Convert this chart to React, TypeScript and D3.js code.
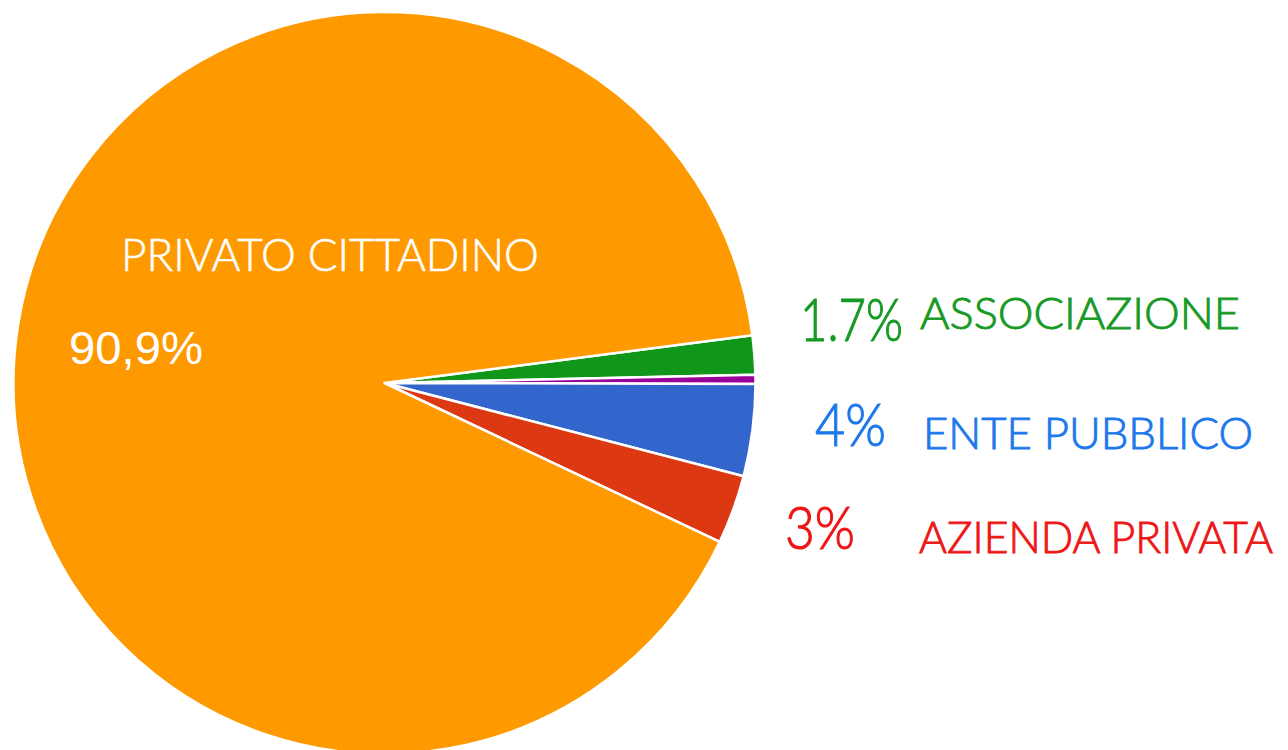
import React from "react";
import * as d3 from "d3";

const categories = ["ASSOCIAZIONE", "ALTRO", "ENTE PUBBLICO", "AZIENDA PRIVATA", "PRIVATO CITTADINO"];
const values = [1.7, 0.4, 4, 3, 90.9];
const valueLabels = ["1.7%", "", "4%", "3%", "90,9%"];
const sliceColors = ["#109618", "#990099", "#3366CC", "#DC3912", "#FF9900"];
const textColors = ["#169A24", "#990099", "#1D78EC", "#EE1515", "#FFFFFF"];

const width = 1288;
const height = 750;
const cx = 384.5;
const cy = 383;
const radius = 371;

// side labels (right of the pie), one row per small slice
const sideRows = [
  { idx: 0, pctX: 800, pctY: 341, pctW: 103, nameX: 920, nameY: 329, nameW: 320 },
  { idx: 2, pctX: 815, pctY: 446, pctW: 71, nameX: 923, nameY: 449, nameW: 330 },
  { idx: 3, pctX: 785, pctY: 549, pctW: 70, nameX: 919, nameY: 553, nameW: 354 },
];

const App = () => {
  const pie = d3
    .pie<number>()
    .sort(null)
    .value(d => d)
    .startAngle(((90 - 7.4) * Math.PI) / 180)
    .endAngle(((90 - 7.4 + 360) * Math.PI) / 180);
  const arcs = pie(values);
  const arc = d3.arc<d3.PieArcDatum<number>>().innerRadius(0).outerRadius(radius);

  const font = "Lato, 'Open Sans', sans-serif";

  return (
    <svg
      width={width}
      height={height}
      style={{ position: "fixed", left: 0, top: 0, background: "#fff" }}
    >
      <g transform={`translate(${cx},${cy})`}>
        {arcs.map((a, i) => (
          <path
            key={categories[i]}
            d={arc(a) || ""}
            fill={sliceColors[i]}
            stroke="#fff"
            strokeWidth={2.5}
            strokeLinejoin="round"
          />
        ))}
      </g>

      <text
        x={121}
        y={271}
        fill="#fff"
        stroke="#fff"
        strokeWidth={0.6}
        fontFamily={font}
        fontWeight={300}
        fontSize={46}
        textLength={418}
        lengthAdjust="spacingAndGlyphs"
      >
        {categories[4]}
      </text>
      <text
        x={69}
        y={364}
        fill="#fff"
        fontFamily="'Liberation Sans', Arial, sans-serif"
        fontSize={47}
        textLength={134}
        lengthAdjust="spacingAndGlyphs"
      >
        {valueLabels[4]}
      </text>

      {sideRows.map(r => (
        <g
          key={categories[r.idx]}
          fill={textColors[r.idx]}
          stroke={textColors[r.idx]}
          fontFamily={font}
          fontWeight={300}
        >
          <text
            x={r.pctX}
            y={r.pctY}
            fontSize={59}
            strokeWidth={1.1}
            textLength={r.pctW}
            lengthAdjust="spacingAndGlyphs"
          >
            {valueLabels[r.idx]}
          </text>
          <text
            x={r.nameX}
            y={r.nameY}
            fontSize={44}
            strokeWidth={0.9}
            textLength={r.nameW}
            lengthAdjust="spacingAndGlyphs"
          >
            {categories[r.idx]}
          </text>
        </g>
      ))}
    </svg>
  );
};

export default App;
